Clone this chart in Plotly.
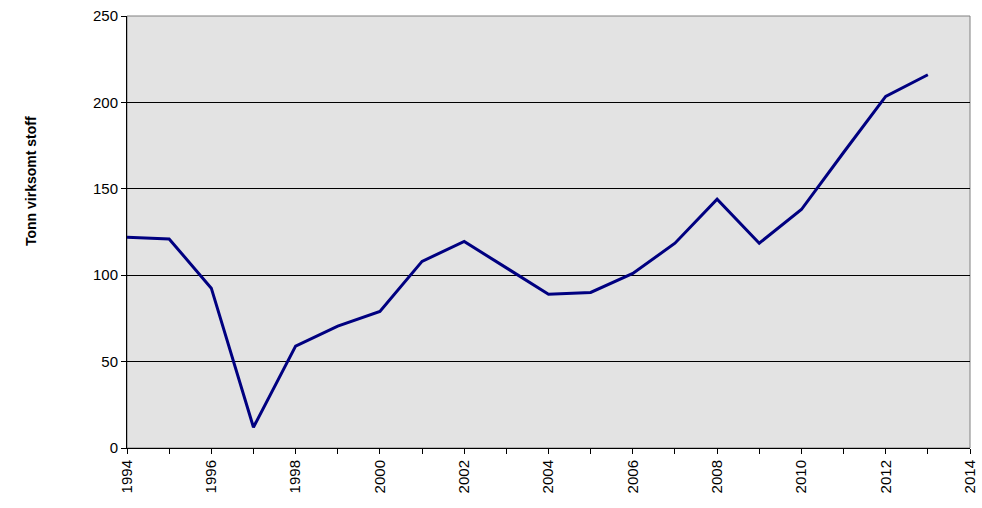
import plotly.graph_objects as go

years = list(range(1994, 2014))
tonn = [122, 121, 92.5, 12, 59, 70.5, 79, 108, 119.5, 104.5, 89, 90, 101, 118.5, 144, 118.5, 138, 171, 203.5, 216]

tick_years = list(range(1994, 2015))
tick_text = [str(y) if y % 2 == 0 else "" for y in tick_years]
y_ticks = [0, 50, 100, 150, 200, 250]

font = dict(family="Liberation Sans, Arial, sans-serif", size=15, color="#000000")

fig = go.Figure()
fig.add_trace(
    go.Scatter(
        x=years,
        y=tonn,
        mode="lines",
        line=dict(color="#000080", width=3),
        hoverinfo="x+y",
    )
)

# grey frame on top/right, the axes draw the black left/bottom lines over it
fig.add_shape(
    type="rect", xref="paper", yref="paper", x0=0, y0=0, x1=1, y1=1,
    line=dict(color="#808080", width=1), layer="below",
)

# y title sits above the middle of the axis in the original, so an annotation
fig.add_annotation(
    text="<b>Tonn virksomt stoff</b>",
    xref="paper", yref="paper", x=0, y=0.618,
    xanchor="center", yanchor="middle", xshift=-96,
    textangle=-90, showarrow=False,
    font=dict(family="Liberation Sans, Arial, sans-serif", size=14, color="#000000"),
)

fig.update_layout(
    width=982,
    height=508,
    margin=dict(l=127, r=12, t=16, b=60),
    paper_bgcolor="#ffffff",
    plot_bgcolor="#e3e3e3",
    showlegend=False,
    font=font,
    xaxis=dict(
        range=[1994, 2014],
        tickmode="array",
        tickvals=tick_years,
        ticktext=tick_text,
        tickangle=-90,
        ticks="outside",
        ticklen=5,
        tickcolor="#000000",
        showline=True,
        linecolor="#000000",
        linewidth=1,
        showgrid=False,
        zeroline=False,
        tickfont=font,
        automargin=False,
    ),
    yaxis=dict(
        range=[0, 250],
        tickmode="array",
        tickvals=y_ticks,
        ticks="outside",
        ticklen=5,
        tickcolor="#000000",
        showline=True,
        linecolor="#000000",
        linewidth=1,
        showgrid=True,
        gridcolor="#000000",
        gridwidth=1,
        zeroline=False,
        tickfont=font,
        automargin=False,
    ),
)

# drop the default 8px body margin so the figure fills the window exactly
fig.write_html(
    "out.html",
    config={"displayModeBar": False},
    post_script="document.body.style.margin='0';",
)
